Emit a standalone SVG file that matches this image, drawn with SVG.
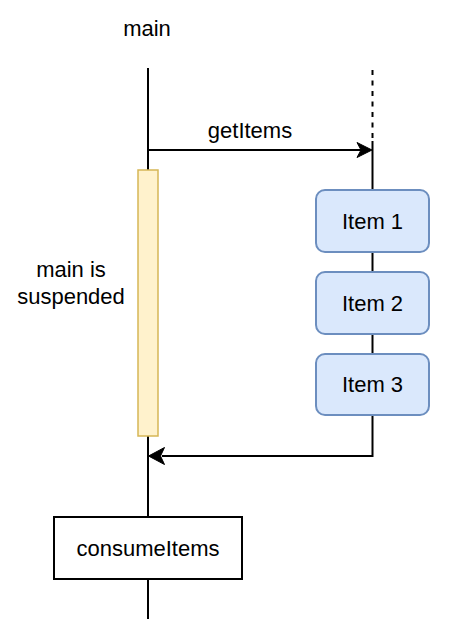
<svg xmlns="http://www.w3.org/2000/svg" width="469" height="641" viewBox="0 0 469 641">
<style>
text{font-family:"Liberation Sans",Arial,sans-serif;font-size:22px;fill:#000;text-anchor:middle}
.ln{stroke:#000;stroke-width:2;fill:none}
.item{fill:#dae8fc;stroke:#6c8ebf;stroke-width:2}
</style>
<rect width="469" height="641" fill="#fff"/>
<g id="connectors">
<line class="ln" x1="148" y1="68" x2="148" y2="170"/>
<line class="ln" x1="148" y1="436" x2="148" y2="517"/>
<line class="ln" x1="148" y1="579" x2="148" y2="619"/>
<line class="ln" x1="372.5" y1="70" x2="372.5" y2="141" stroke-dasharray="5 5.5"/>
<line class="ln" x1="372.5" y1="141" x2="372.5" y2="190"/>
<line class="ln" x1="372.5" y1="252" x2="372.5" y2="272"/>
<line class="ln" x1="372.5" y1="334" x2="372.5" y2="354"/>
<polyline class="ln" points="372.5,415 372.5,456 162,456"/>
<line class="ln" x1="148" y1="150" x2="362" y2="150"/>
<path d="M372,150 L357,142.5 L361,150 L357,157.5 Z" fill="#000" stroke="#000" stroke-width="1"/>
<path d="M148.5,456 L164.5,447.5 L160.5,456 L164.5,464.5 Z" fill="#000" stroke="#000" stroke-width="1"/>
<text x="250" y="138">getItems</text>
</g>
<g id="main-label"><text x="147" y="36">main</text></g>
<g id="suspended-bar"><rect x="138" y="170" width="20" height="266" fill="#fff2cc" stroke="#d6b656" stroke-width="1.5"/></g>
<g id="suspended-label"><text x="71" y="277">main is</text><text x="71" y="304">suspended</text></g>
<g id="item1"><rect class="item" x="316" y="190" width="113" height="62" rx="9"/><text x="372.5" y="229">Item 1</text></g>
<g id="item2"><rect class="item" x="316" y="272" width="113" height="62" rx="9"/><text x="372.5" y="311">Item 2</text></g>
<g id="item3"><rect class="item" x="316" y="354" width="113" height="61" rx="9"/><text x="372.5" y="392">Item 3</text></g>
<g id="consumeItems"><rect x="54" y="517" width="188" height="62" fill="#fff" stroke="#000" stroke-width="2"/><text x="148" y="556">consumeItems</text></g>
</svg>
